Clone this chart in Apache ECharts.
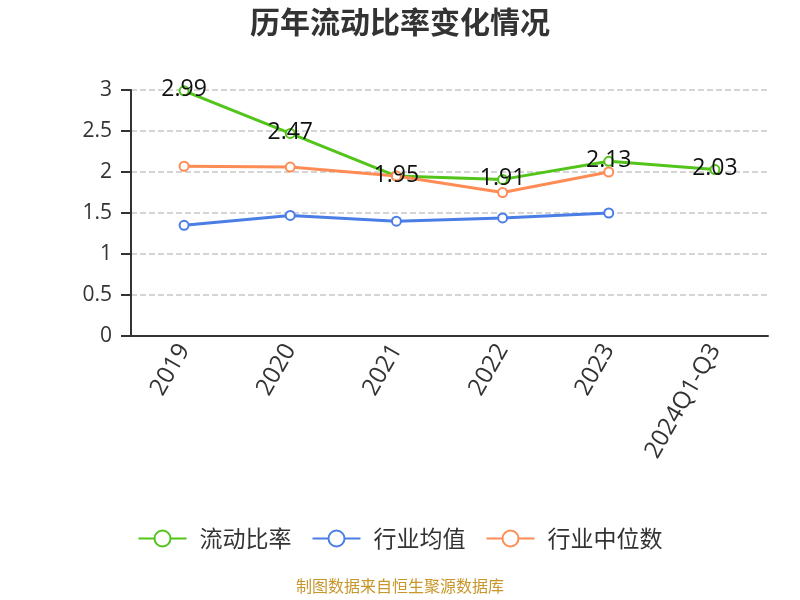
<!DOCTYPE html>
<html><head><meta charset="utf-8">
<script src="https://cdn.jsdelivr.net/npm/echarts@6/dist/echarts.min.js"></script>
<style>html,body{margin:0;padding:0;background:#fff}#c{width:800px;height:600px}</style>
</head><body><div id="c"></div>
<script>
const categories = ['2019','2020','2021','2022','2023','2024Q1-Q3'];
const currentRatio = [2.99, 2.47, 1.95, 1.91, 2.13, 2.03];
const industryAvg = [1.35, 1.47, 1.40, 1.44, 1.50];
const industryMedian = [2.07, 2.06, 1.95, 1.75, 2.00];
const yTicks = [0, 0.5, 1, 1.5, 2, 2.5, 3];

const chart = echarts.init(document.getElementById('c'));
const font = '"Open Sans", "Noto Sans CJK SC", sans-serif';
const cjk = '"Noto Sans CJK SC", sans-serif';
chart.setOption({
  animation: false,
  title: {text: '历年流动比率变化情况', left: 'center', top: 2,
    textStyle: {fontSize: 30, fontWeight: 'bold', color: '#333', fontFamily: cjk}},
  graphic: [{type: 'text', left: 'center', top: 578,
    style: {text: '制图数据来自恒生聚源数据库', fill: '#c8962a', fontSize: 16, fontFamily: cjk}}],
  legend: {top: 522, itemWidth: 48, itemHeight: 20, itemGap: 20,
    textStyle: {fontSize: 23, color: '#333', fontFamily: cjk, padding: [0, 0, 0, 8]},
    data: ['流动比率','行业均值','行业中位数']},
  grid: {left: 131, right: 32, top: 90, bottom: 264},
  xAxis: {type: 'category', data: categories, boundaryGap: true,
    axisLine: {lineStyle: {color: '#333', width: 2}},
    axisTick: {lineStyle: {color: '#333', width: 2}, length: 8},
    axisLabel: {rotate: 60, fontSize: 24, color: '#333', fontFamily: font, margin: 10}},
  yAxis: {type: 'value', min: 0, max: 3, interval: 0.5,
    axisLine: {show: true, lineStyle: {color: '#333', width: 2}},
    axisTick: {show: true, lineStyle: {color: '#333', width: 2}, length: 10},
    axisLabel: {fontSize: 21, color: '#333', fontFamily: font, margin: 19},
    splitLine: {lineStyle: {type: 'dashed', color: '#c8c8c8', width: 1.5}}},
  series: [
    {name: '流动比率', type: 'line', data: currentRatio, symbol: 'emptyCircle', symbolSize: 9,
      itemStyle: {color: '#52c41a'}, lineStyle: {width: 3, color: '#52c41a'},
      label: {show: true, position: 'inside', fontSize: 23, color: '#111', fontFamily: font, offset: [0, -1]}},
    {name: '行业均值', type: 'line', data: industryAvg, symbol: 'emptyCircle', symbolSize: 9,
      itemStyle: {color: '#4a7ee6'}, lineStyle: {width: 3, color: '#4a7ee6'}},
    {name: '行业中位数', type: 'line', data: industryMedian, symbol: 'emptyCircle', symbolSize: 9,
      itemStyle: {color: '#ff8c55'}, lineStyle: {width: 3, color: '#ff8c55'}}
  ]
});
</script></body></html>
